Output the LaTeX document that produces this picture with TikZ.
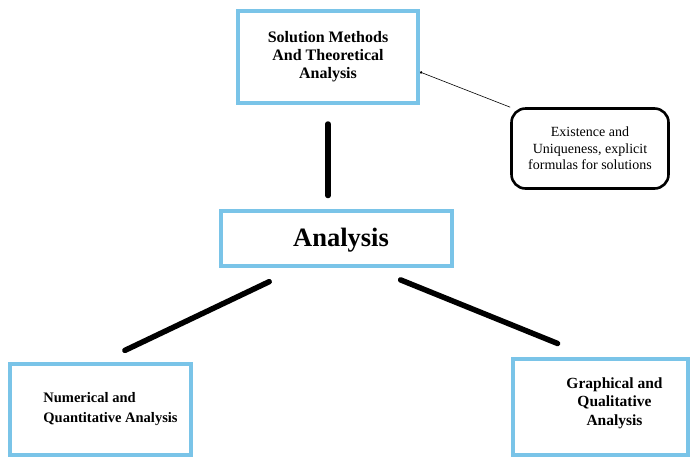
\documentclass[tikz,border=0pt]{standalone}
\usepackage{fontspec}
\setmainfont{Liberation Serif}
\usetikzlibrary{arrows.meta}
\definecolor{boxblue}{RGB}{122,196,232}

\begin{document}
\begin{tikzpicture}[x=1pt,y=-1pt,
    bluebox/.style={draw=boxblue, line width=4pt, align=center, inner sep=2pt},
    callout/.style={draw, line width=2.6pt, rounded corners=14pt, align=center},
    bar/.style={line width=5.5pt, line cap=round},
  ]
  \useasboundingbox (0,0) rectangle (693,459);

  \node[bluebox, minimum width=180pt, minimum height=92pt,
        font=\bfseries\fontsize{16}{18}\selectfont] (top) at (328,57)
        {Solution Methods\\And Theoretical\\Analysis};
  \node[bluebox, minimum width=231pt, minimum height=55pt] (ana) at (336,238) {};
  \node[font=\bfseries\fontsize{26.5}{30}\selectfont] (anatxt)
        at ([xshift=5pt,yshift=-2pt]ana.center) {Analysis};
  \node[bluebox, minimum width=181pt, minimum height=91pt] (num) at (100.5,409.5) {};
  \node[align=left, font=\bfseries\fontsize{14.5}{20}\selectfont] (numtxt)
        at ([xshift=10pt]num.center) {Numerical and\\Quantitative Analysis};
  \node[bluebox, minimum width=175pt, minimum height=96pt] (gra) at (600.5,407) {};
  \node[align=center, font=\bfseries\fontsize{15.5}{18.5}\selectfont] (gratxt)
        at ([xshift=14pt,yshift=4pt]gra.center) {Graphical and\\Qualitative\\Analysis};
  \node[callout, minimum width=157pt, minimum height=80pt,
        font=\fontsize{14}{16.5}\selectfont] (exi) at (590,148.5)
        {Existence and\\Uniqueness, explicit\\formulas for solutions};

  \draw[{Circle[length=2.5pt]}-, line width=0.6pt] ([yshift=-15pt]top.east) -- (exi.north west);

  \draw[bar, shorten <=19pt, shorten >=13pt] (top.south) -- (top.south |- ana.north);
  \draw[bar, shorten <=33pt, shorten >=27pt] ([xshift=-37pt]ana.south) -- (num.north);
  \draw[bar, shorten <=33pt, shorten >=36pt] ([xshift=34pt]ana.south) -- ([xshift=-9.5pt]gra.north);
\end{tikzpicture}
\end{document}
